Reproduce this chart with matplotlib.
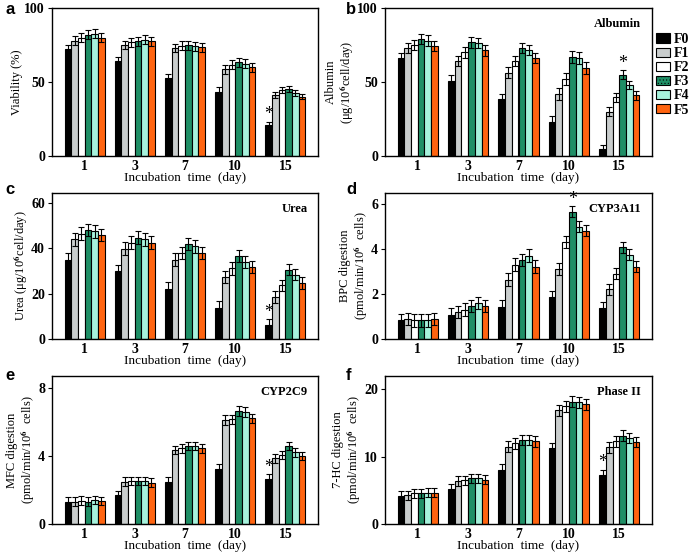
import numpy as np
import matplotlib
matplotlib.use("Agg")
import matplotlib.pyplot as plt
from matplotlib.patches import Patch

plt.rcParams['font.family'] = ['Liberation Serif', 'DejaVu Serif']
plt.rcParams['font.weight'] = 'bold'
plt.rcParams['mathtext.fontset'] = 'stix'
plt.rcParams['hatch.linewidth'] = 0.4

days = ['1', '3', '7', '10', '15']
groups = ['F0', 'F1', 'F2', 'F3', 'F4', 'F5']
colors = ['#000000', '#c9cdcd', '#ffffff', '#1f8f66', '#a6f2dc', '#ff6410']

# values per group F0..F5, each list = days 1,3,7,10,15
viability = [[72, 64, 52.6, 43.3, 21],
             [78, 75, 73, 58.7, 41.5],
             [80, 76.7, 74.5, 61.6, 44.7],
             [82, 77.6, 74.7, 63.4, 45],
             [82.6, 78.5, 74, 62.3, 42.4],
             [80, 77.4, 73.6, 60, 40.2]]
viability_err = [3, 3, 3, 3, 2]

albumin = [[66, 51, 38.4, 23, 4.7],
           [73, 64, 56.4, 41.8, 30],
           [75, 70, 64, 52, 39.7],
           [79, 76.7, 73, 67, 54.8],
           [78, 76.3, 71.8, 66, 48],
           [74.5, 71.3, 66, 59.4, 41]]
albumin_err = [3.5, 3.5, 3.5, 4, 3]

urea = [[35, 29.9, 22.2, 13.8, 6.2],
        [44, 39.9, 35, 27.4, 18.5],
        [46.5, 42.6, 38, 31.2, 23.7],
        [48.2, 44.7, 42, 36.6, 30.6],
        [47.6, 44, 40.9, 34, 28.4],
        [46, 42.6, 38, 31.8, 24.7]]
urea_err = [2.8, 2.8, 2.8, 2.8, 2.5]

cyp3a11 = [[0.83, 1.08, 1.43, 1.86, 1.39],
           [0.88, 1.2, 2.63, 3.1, 2.2],
           [0.83, 1.3, 3.3, 4.3, 2.9],
           [0.83, 1.46, 3.5, 5.64, 4.07],
           [0.83, 1.6, 3.7, 4.98, 3.73],
           [0.88, 1.46, 3.2, 4.8, 3.2]]
cyp3a11_err = [0.28, 0.28, 0.28, 0.25, 0.25]

cyp2c9 = [[1.32, 1.71, 2.5, 3.24, 2.67],
          [1.32, 2.5, 4.36, 6.13, 3.87],
          [1.38, 2.55, 4.46, 6.17, 4.07],
          [1.32, 2.55, 4.6, 6.68, 4.6],
          [1.41, 2.55, 4.6, 6.62, 4.22],
          [1.36, 2.44, 4.46, 6.23, 4.0]]
cyp2c9_err = [0.25, 0.25, 0.25, 0.28, 0.25]

phase2 = [[4.16, 5.25, 8.1, 11.3, 7.3],
          [4.26, 6.4, 11.5, 16.9, 11.4],
          [4.55, 6.5, 12.0, 17.5, 12.3],
          [4.55, 6.8, 12.5, 18.2, 13.1],
          [4.65, 6.8, 12.5, 18.1, 12.8],
          [4.65, 6.6, 12.3, 17.8, 12.2]]
phase2_err = [0.7, 0.7, 0.8, 0.8, 0.8]

panels = [
    ('a', viability, viability_err, 'Viability (%)', None, 100, [0, 50, 100], (0, 4)),
    ('b', albumin, albumin_err, 'Albumin\n(μg/10$^{\\mathbf{6}}$cell/day)', 'Albumin', 100, [0, 50, 100], (3, 4)),
    ('c', urea, urea_err, 'Urea (μg/10$^{\\mathbf{6}}$cell/day)', 'Urea', 64.5, [0, 20, 40, 60], (0, 4)),
    ('d', cyp3a11, cyp3a11_err, 'BPC digestion\n(pmol/min/10$^{\\mathbf{6}}$  cells)', 'CYP3A11', 6.47, [0, 2, 4, 6], (3, 3)),
    ('e', cyp2c9, cyp2c9_err, 'MFC digestion\n(pmol/min/10$^{\\mathbf{6}}$  cells)', 'CYP2C9', 8.73, [0, 4, 8], (0, 4)),
    ('f', phase2, phase2_err, '7-HC digestion\n(pmol/min/10$^{\\mathbf{6}}$  cells)', 'Phase II', 22, [0, 10, 20], (0, 4)),
]

W, H = 692, 552
fig = plt.figure(figsize=(W / 100, H / 100), dpi=100)

col_x = [52, 385]
col_w = [266, 267]
row_y = [(8, 156), (193, 339), (376, 524)]

x = np.arange(len(days))
bw = 0.133

for i, (letter, data, err, ylabel, title, ytop, yticks, star) in enumerate(panels):
    r, c = divmod(i, 2)
    top, bot = row_y[r]
    ax = fig.add_axes([col_x[c] / W, 1 - bot / H, col_w[c] / W, (bot - top) / H])
    for k in range(6):
        pos = x + (k - 2.5) * bw
        ax.bar(pos, data[k], width=bw, color=colors[k], edgecolor='black',
               linewidth=0.8)
        ax.errorbar(pos, data[k], yerr=err, fmt='none', ecolor='black',
                    elinewidth=0.8, capsize=2.2, capthick=0.8)
    si, sk = star
    sx = x[sk] + (si - 2.5) * bw
    ax.text(sx, data[si][sk] + err[sk] - ytop * 0.01, '*', ha='center', va='bottom',
            fontsize=13, fontweight='normal')
    ax.set_xlim(-0.65, 4.65)
    ax.set_ylim(0, ytop)
    ax.set_yticks(yticks)
    ax.set_xticks(x)
    ax.set_xticklabels(days)
    ax.tick_params(axis='x', length=0, labelsize=10, pad=3)
    ax.tick_params(axis='y', length=3, width=0.8, labelsize=10, pad=2, direction='out')
    for s in ax.spines.values():
        s.set_linewidth(1.0)
    ax.set_xlabel('Incubation  time  (day)', fontsize=9.5, labelpad=-1)
    ax.set_ylabel(ylabel, fontsize=9, labelpad=1, linespacing=1.0)
    if title:
        ax.text(0.96, 0.93, title, transform=ax.transAxes, ha='right', va='top',
                fontsize=9)
    lx = 5 if c == 0 else 346
    ly = [2, 182, 368][r]
    fig.text(lx / W, 1 - ly / H, letter, ha='left', va='top', fontsize=12,
             fontweight='bold', family='Liberation Sans')

handles = []
for k, g in enumerate(groups):
    handles.append(Patch(facecolor=colors[k], edgecolor='black', linewidth=0.8,
                         hatch='.....' if k == 3 else None, label=g))
fig.legend(handles=handles, loc='upper left', bbox_to_anchor=(656 / W, 1 - 33 / H),
           frameon=False, fontsize=10, handlelength=1.0, handleheight=0.65,
           handletextpad=0.25, labelspacing=0.08, borderpad=0, borderaxespad=0)

fig.savefig('out.png', dpi=100)
